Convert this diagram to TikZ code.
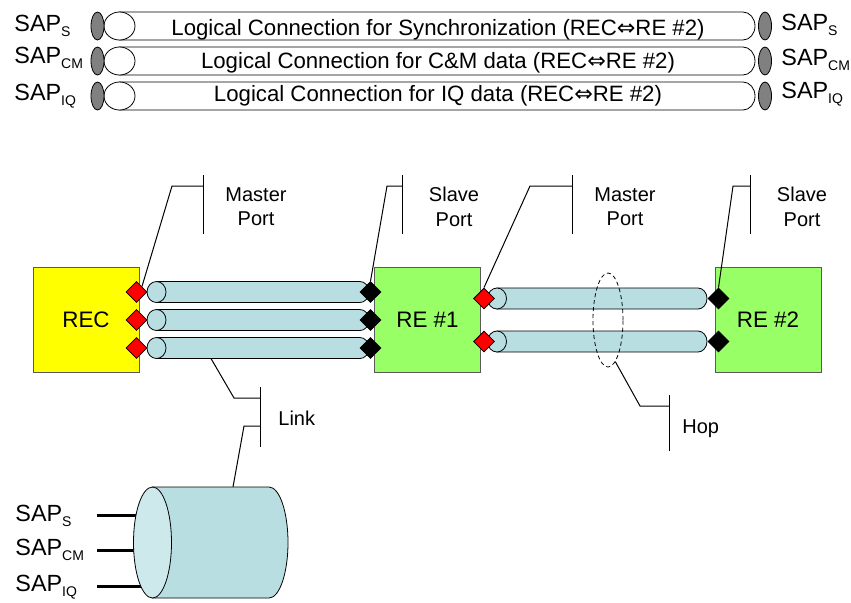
\documentclass[tikz,border=0pt]{standalone}
\usepackage{fontspec}
\setmainfont{Liberation Sans}
\newfontfamily\arrowfont{DejaVu Sans}
\usepackage{tikz}
\usetikzlibrary{shapes.geometric}
\definecolor{recyellow}{RGB}{255,255,0}
\definecolor{regreen}{RGB}{153,255,102}
\definecolor{tubeblue}{RGB}{185,222,226}
\definecolor{facelight}{RGB}{205,233,235}
\definecolor{sapgray}{RGB}{128,128,128}
\definecolor{boxline}{RGB}{90,90,90}
\newcommand\sapl[1]{SAP\raisebox{-2.5pt}{\fontsize{7}{8}\selectfont #1}}
\newcommand\lrarrow{{\arrowfont ⇔}}

\begin{document}
\begin{tikzpicture}[x=0.5pt, y=-0.5pt,
	unit/.style={draw=boxline, minimum width=53pt, minimum height=52.5pt, inner sep=0, font=\fontsize{11.2}{13}\selectfont},
	port/.style={diamond, draw, minimum size=10.5pt, inner sep=0},
	tube/.style={draw, fill=tubeblue},
	pipe/.style={draw, fill=white},
	sap/.style={anchor=base west, inner sep=0, font=\fontsize{11.7}{14}\selectfont},
	lbl/.style={anchor=base, inner sep=0, font=\fontsize{11.1}{13}\selectfont},
	callout/.style={align=center, inner sep=0, font=\fontsize{10}{12.2}\selectfont},
	lead/.style={draw, line width=0.5pt}
]
\useasboundingbox (0,0) rectangle (851,602);

\filldraw[pipe] (119.5,12) -- (743,12) arc[start angle=-90, end angle=90, x radius=12, y radius=14] -- (119.5,40) -- cycle;
\filldraw[pipe] (119.5,26) ellipse[x radius=15.5, y radius=14];
\filldraw[draw, fill=sapgray] (97.5,26) ellipse[x radius=6.5, y radius=14];
\filldraw[draw, fill=sapgray] (765,26) ellipse[x radius=6.5, y radius=14];
\filldraw[pipe] (119.5,47) -- (743,47) arc[start angle=-90, end angle=90, x radius=12, y radius=14] -- (119.5,75) -- cycle;
\filldraw[pipe] (119.5,61) ellipse[x radius=15.5, y radius=14];
\filldraw[draw, fill=sapgray] (97.5,61) ellipse[x radius=6.5, y radius=14];
\filldraw[draw, fill=sapgray] (765,61) ellipse[x radius=6.5, y radius=14];
\filldraw[pipe] (119.5,82) -- (743,82) arc[start angle=-90, end angle=90, x radius=12, y radius=14] -- (119.5,110) -- cycle;
\filldraw[pipe] (119.5,96) ellipse[x radius=15.5, y radius=14];
\filldraw[draw, fill=sapgray] (97.5,96) ellipse[x radius=6.5, y radius=14];
\filldraw[draw, fill=sapgray] (765,96) ellipse[x radius=6.5, y radius=14];

\node[sap] (sl1) at (14,31.7) {\sapl{S}};
\node[sap] (sl2) at (14,63.3) {\sapl{CM}};
\node[sap] (sl3) at (14,100) {\sapl{IQ}};
\node[sap] (sr1) at (781,30) {\sapl{S}};
\node[sap] (sr2) at (781,65) {\sapl{CM}};
\node[sap] (sr3) at (781,98) {\sapl{IQ}};
\node[lbl] (lc1) at (438,35) {Logical Connection for Synchronization (REC\lrarrow RE \#2)};
\node[lbl] (lc2) at (438,68.5) {Logical Connection for C\&M data (REC\lrarrow RE \#2)};
\node[lbl] (lc3) at (438,101) {Logical Connection for IQ data (REC\lrarrow RE \#2)};

\node[unit, fill=recyellow] (rec) at (86,320) {REC};
\node[unit, fill=regreen] (re1) at (427.5,320) {RE \#1};
\node[unit, fill=regreen] (re2) at (768,320) {RE \#2};

\filldraw[tube] (156.5,281.5) -- (360,281.5) arc[start angle=-90, end angle=90, x radius=9, y radius=10.5] -- (156.5,302.5) -- cycle;
\filldraw[tube] (156.5,292) ellipse[x radius=9.5, y radius=10.5];
\filldraw[tube] (156.5,309.5) -- (360,309.5) arc[start angle=-90, end angle=90, x radius=9, y radius=10.5] -- (156.5,330.5) -- cycle;
\filldraw[tube] (156.5,320) ellipse[x radius=9.5, y radius=10.5];
\filldraw[tube] (156.5,337.5) -- (360,337.5) arc[start angle=-90, end angle=90, x radius=9, y radius=10.5] -- (156.5,358.5) -- cycle;
\filldraw[tube] (156.5,348) ellipse[x radius=9.5, y radius=10.5];
\filldraw[tube] (497,288) -- (698,288) arc[start angle=-90, end angle=90, x radius=9, y radius=10.5] -- (497,309) -- cycle;
\filldraw[tube] (497,298.5) ellipse[x radius=9.5, y radius=10.5];
\filldraw[tube] (497,331) -- (698,331) arc[start angle=-90, end angle=90, x radius=9, y radius=10.5] -- (497,352) -- cycle;
\filldraw[tube] (497,341.5) ellipse[x radius=9.5, y radius=10.5];

\node[port, fill=red] (m1) at (136.5,292) {};
\node[port, fill=red] (m2) at (136.5,320) {};
\node[port, fill=red] (m3) at (136.5,348) {};
\node[port, fill=black] (s1) at (370.5,292) {};
\node[port, fill=black] (s2) at (370.5,320) {};
\node[port, fill=black] (s3) at (370.5,348) {};
\node[port, fill=red] (m4) at (484,298.5) {};
\node[port, fill=red] (m5) at (484,341.5) {};
\node[port, fill=black] (s4) at (718.5,298.5) {};
\node[port, fill=black] (s5) at (718.5,341.5) {};

\node[ellipse, draw, dash pattern=on 2pt off 1.5pt, minimum width=15pt, minimum height=47pt, inner sep=0] (hop) at (608,320) {};

\coordinate (mpk1) at (172,186);
\coordinate (mpb1) at (203,186);
\draw[lead] (m1.north east) -- (mpk1) -- (mpb1);
\draw[lead] (mpb1) ++(0,-11) -- ++(0,59);
\node[callout] (mp1) at (256,207) {Master\\Port};

\coordinate (spk1) at (387,186);
\coordinate (spb1) at (402,186);
\draw[lead] (s1.north) -- (spk1) -- (spb1);
\draw[lead] (spb1) ++(0,-11) -- ++(0,59);
\node[callout] (sp1) at (454,207) {Slave\\Port};

\coordinate (mpk2) at (530,186);
\coordinate (mpb2) at (572,186);
\draw[lead] (m4.north) -- (mpk2) -- (mpb2);
\draw[lead] (mpb2) ++(0,-11) -- ++(0,59);
\node[callout] (mp2) at (625,207) {Master\\Port};

\coordinate (spk2) at (733,186);
\coordinate (spb2) at (750,186);
\draw[lead] (s4.north) -- (spk2) -- (spb2);
\draw[lead] (spb2) ++(0,-11) -- ++(0,59);
\node[callout] (sp2) at (802,207) {Slave\\Port};

\coordinate (hpk) at (640,406);
\coordinate (hpb) at (669,406);
\draw[lead] (hop.-80) -- (hpk) -- (hpb);
\draw[lead] (hpb) ++(0,-11) -- ++(0,56);
\node[callout, anchor=base west] (hoplbl) at (682,433) {Hop};

\coordinate (lk0) at (211,358.5);
\coordinate (lk1) at (234,398);
\coordinate (lkb1) at (260,398);
\coordinate (lkb2) at (260,426);
\coordinate (lk2) at (244,426);
\coordinate (cyltop) at (233,487);
\draw[lead] (lk0) -- (lk1) -- (lkb1);
\draw[lead] (lkb1) ++(0,-11) -- ++(0,60);
\draw[lead] (lkb2) -- (lk2) -- (cyltop);
\node[callout, anchor=base west] (linklbl) at (278,425) {Link};

\coordinate (cs1) at (150,515);
\coordinate (cs2) at (150,550.5);
\coordinate (cs3) at (150,586);
\draw[line width=1.5pt] (cs1) -- ++(-53,0);
\draw[line width=1.5pt] (cs2) -- ++(-53,0);
\draw[line width=1.5pt] (cs3) -- ++(-53,0);
\filldraw[tube] (152.5,487) -- (269,487) arc[start angle=-90, end angle=90, x radius=19, y radius=55.5] -- (152.5,598) -- cycle;
\filldraw[draw, fill=facelight] (152.5,542.5) ellipse[x radius=19, y radius=55.5];

\node[sap] (sb1) at (15,521.7) {\sapl{S}};
\node[sap] (sb2) at (15,555.7) {\sapl{CM}};
\node[sap] (sb3) at (15,591) {\sapl{IQ}};
\end{tikzpicture}
\end{document}
